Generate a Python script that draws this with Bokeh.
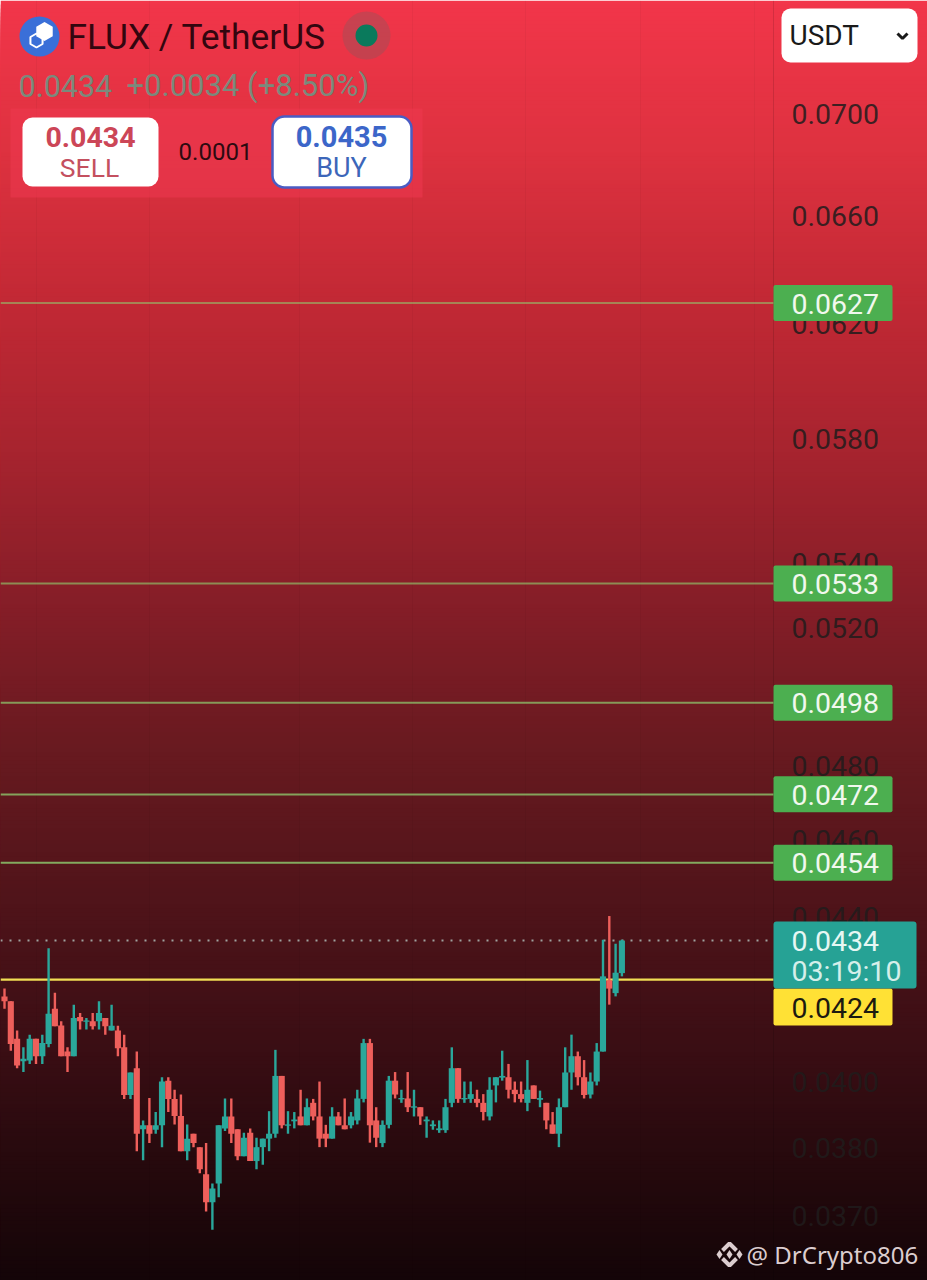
import numpy as np
from bokeh.core.properties import value
from bokeh.embed import file_html
from bokeh.models import FixedTicker, LinearScale, LogAxis, NumeralTickFormatter, Range1d
from bokeh.plotting import figure
from bokeh.resources import INLINE

# OHLC
opens = [0.04202,0.04190,0.04100,0.04047,0.04049,0.04100,0.04059,0.04088,0.04172,0.04132,0.04070,0.04059,0.04152,0.04141,0.04142,0.04142,0.04150,0.04120,0.04120,0.04080,
0.03969,0.04031,0.03891,0.03900,0.03890,0.03900,0.04002,0.03960,0.03921,0.03842,0.03881,0.03851,0.03791,0.03730,0.03771,0.03893,0.03920,0.03891,0.03831,0.03883,
0.03820,0.03851,0.03870,0.03881,0.04013,0.03899,0.03909,0.03920,0.03900,0.03951,0.03920,0.03881,0.03870,0.03920,0.03900,0.03900,0.03911,0.03960,0.04090,0.03911,
0.03860,0.03901,0.04002,0.03959,0.03961,0.03940,0.03941,0.03909,0.03898,0.03889,0.03889,0.03951,0.04031,0.03959,0.03960,0.03960,0.03951,0.03920,0.03991,0.04009,
0.04010,0.03981,0.03971,0.03951,0.03991,0.03958,0.03951,0.03902,0.03881,0.03941,0.04021,0.04059,0.04010,0.03970,0.04000,0.04070,0.04241,0.04210,0.04259]
highs = [0.04221,0.04190,0.04120,0.04080,0.04110,0.04100,0.04110,0.04321,0.04211,0.04142,0.04080,0.04182,0.04162,0.04150,0.04162,0.04190,0.04150,0.04182,0.04131,0.04110,
0.04021,0.04070,0.03911,0.03962,0.03930,0.04010,0.04010,0.03981,0.03970,0.03902,0.03881,0.03851,0.03860,0.03771,0.03900,0.03961,0.03961,0.03891,0.03883,0.03893,
0.03872,0.03870,0.03932,0.04074,0.04013,0.03932,0.03930,0.03981,0.03961,0.03960,0.04000,0.03901,0.03941,0.03930,0.03961,0.03930,0.03981,0.04100,0.04100,0.03941,
0.03911,0.04013,0.04022,0.03981,0.04022,0.03981,0.03941,0.03920,0.03911,0.03911,0.03960,0.04080,0.04031,0.04000,0.04000,0.03981,0.03971,0.04010,0.04010,0.04072,
0.04041,0.04000,0.04000,0.04050,0.03991,0.03979,0.03951,0.03930,0.03961,0.04080,0.04110,0.04070,0.04050,0.04021,0.04090,0.04342,0.04402,0.04332,0.04342]
lows = [0.04172,0.04072,0.04031,0.04022,0.04041,0.04041,0.04041,0.04080,0.04130,0.04059,0.04022,0.04059,0.04122,0.04122,0.04122,0.04122,0.04110,0.04120,0.04059,0.03960,
0.03960,0.03842,0.03822,0.03860,0.03881,0.03851,0.03930,0.03902,0.03842,0.03822,0.03851,0.03793,0.03710,0.03671,0.03741,0.03887,0.03860,0.03822,0.03831,0.03820,
0.03802,0.03812,0.03842,0.03872,0.03893,0.03881,0.03893,0.03900,0.03900,0.03911,0.03851,0.03851,0.03870,0.03900,0.03891,0.03893,0.03902,0.03952,0.03861,0.03851,
0.03851,0.03893,0.03961,0.03951,0.03930,0.03920,0.03901,0.03872,0.03890,0.03883,0.03883,0.03941,0.03951,0.03951,0.03951,0.03941,0.03911,0.03911,0.03952,0.04002,
0.03961,0.03952,0.03952,0.03932,0.03960,0.03941,0.03891,0.03881,0.03851,0.03941,0.03981,0.03991,0.03961,0.03961,0.03991,0.04070,0.04182,0.04202,0.04251]
closes = [0.04190,0.04088,0.04037,0.04053,0.04100,0.04059,0.04090,0.04160,0.04130,0.04059,0.04059,0.04150,0.04142,0.04144,0.04130,0.04162,0.04130,0.04131,0.04078,0.03969,
0.04021,0.03881,0.03900,0.03881,0.03900,0.04000,0.03960,0.03921,0.03842,0.03870,0.03860,0.03802,0.03730,0.03760,0.03900,0.03920,0.03881,0.03831,0.03872,0.03820,
0.03851,0.03870,0.03881,0.04013,0.03900,0.03902,0.03913,0.03900,0.03941,0.03920,0.03870,0.03870,0.03920,0.03900,0.03891,0.03920,0.03961,0.04090,0.03900,0.03872,
0.03901,0.04002,0.03970,0.03962,0.03941,0.03943,0.03920,0.03913,0.03902,0.03893,0.03941,0.04031,0.03960,0.03962,0.03971,0.03951,0.03930,0.03981,0.04010,0.04013,
0.03981,0.03971,0.03960,0.03981,0.03960,0.03962,0.03911,0.03881,0.03941,0.04021,0.04059,0.04010,0.03969,0.04000,0.04070,0.04251,0.04221,0.04260,0.04340]

# horizontal levels as drawn (the tag texts round them to four places)
levels = [0.06276, 0.05336, 0.0498, 0.04723, 0.0454]
level_labels = ["0.0627", "0.0533", "0.0498", "0.0472", "0.0454"]
last_price = 0.0434
yellow_price = 0.04243
tick_values = [0.07, 0.066, 0.062, 0.058, 0.054, 0.052, 0.048, 0.046, 0.044, 0.04, 0.0385, 0.037]
tick_overrides = {0.0385: "0.0380"}

# gradient stops: reference pixel row, r, g, b
bg_rows = [0, 150, 300, 450, 600, 750, 900, 1050, 1150, 1280]
bg_r = [242, 222, 194, 167, 134, 104, 80, 58, 40, 20]
bg_g = [54, 50, 41, 36, 30, 26, 20, 14, 10, 5]
bg_b = [74, 64, 53, 47, 40, 32, 26, 20, 14, 8]
grid_x = [36, 149, 299, 412, 525, 640, 754]

FONT = value("Roboto")
TEAL = "#2aa79b"
RED = "#ee5f5b"

p = figure(width=927, height=1280, output_backend="svg", toolbar_location=None,
           y_axis_type="log", x_axis_location=None, y_axis_location=None,
           x_range=Range1d((0 - 4) / 6.3, (927 - 4) / 6.3),
           y_range=Range1d(0.03565, 0.07477), min_border=0, outline_line_color=None)
p.grid.visible = False
p.extra_x_ranges["px"] = Range1d(0, 927)
p.extra_y_ranges["px"] = Range1d(1280, 0)
p.extra_x_scales["px"] = LinearScale()
p.extra_y_scales["px"] = LinearScale()
PX = dict(x_range_name="px", y_range_name="px")

# background
rows = np.arange(0, 1280, 4)
cols = ["#%02x%02x%02x" % (int(np.interp(r, bg_rows, bg_r)), int(np.interp(r, bg_rows, bg_g)), int(np.interp(r, bg_rows, bg_b))) for r in rows]
p.quad(left=0, right=927, top=rows, bottom=1280, fill_color=cols, line_color=None, **PX)
p.segment(x0=grid_x, x1=grid_x, y0=0, y1=1280, line_color="#000000", line_alpha=0.035, line_width=1, **PX)
p.segment(x0=[773], x1=[773], y0=[0], y1=[1280], line_color="#000000", line_alpha=0.12, line_width=1, **PX)

# levels
p.segment(x0=0, x1=773, y0=levels, y1=levels, line_color="#8fd070", line_alpha=[0.55, 0.62, 0.7, 0.76, 0.8], line_width=2, x_range_name="px")
p.segment(x0=[0], x1=[773], y0=[last_price], y1=[last_price], line_color="#b4c6c0", line_width=2, line_alpha=0.8, line_dash="2 7", x_range_name="px")
p.segment(x0=[0], x1=[773], y0=[yellow_price], y1=[yellow_price], line_color="#f0de55", line_width=2.4, x_range_name="px")

# candles
idx = list(range(len(opens)))
ccol = [TEAL if c >= o else RED for o, c in zip(opens, closes)]
p.segment(x0=idx, x1=idx, y0=lows, y1=highs, line_color=ccol, line_width=2.4)
p.vbar(x=idx, width=0.97, top=[max(a, b) for a, b in zip(opens, closes)], bottom=[min(a, b) for a, b in zip(opens, closes)], fill_color=ccol, line_color=None)

# price axis inside plot
ax = LogAxis(fixed_location=(785 - 4) / 6.3, ticker=FixedTicker(ticks=tick_values),
             formatter=NumeralTickFormatter(format="0.0000"), major_label_overrides=tick_overrides,
             axis_line_color=None, major_tick_line_color=None, minor_tick_line_color=None,
             major_label_standoff=0, major_label_text_font="Roboto", major_label_text_font_size="28.5px",
             major_label_text_color="#201c1c", major_label_text_alpha=0.85)
p.add_layout(ax, "right")


def box(l, r, t, b, color, radius=3, line=None, lw=1, alpha=1.0):
    p.quad(left=[l], right=[r], top=[t], bottom=[b], fill_color=color, fill_alpha=alpha, line_color=line, line_width=lw,
           border_radius=radius, level="overlay", **PX)


def label(x, y, s, size, color, align="left", style="normal", font=FONT, alpha=1.0):
    p.text(x=[x], y=[y], text=[s], text_font=font, text_font_size=size, text_color=color, text_align=align,
           text_baseline="middle", text_font_style=style, text_alpha=alpha, level="overlay", **PX)


# level tags
for lv, s in zip(levels, level_labels):
    yy = 940 - 1728 * np.log(lv / last_price)
    box(773, 892, yy - 18, yy + 18, "#4caf50", radius=2)
    label(791, yy + 0.5, s, "28.5px", "#f1f8ee")
box(773, 892, 988, 1025, "#ffe135", radius=2)
label(791, 1007, "0.0424", "28.5px", "#1c1a10")
box(773, 916, 921, 988, "#26a295", radius=3)
label(791, 940, "0.0434", "28.5px", "#e6f7f3")
label(791, 971, "03:19:10", "28.5px", "#d5efea")

# header
box(10, 422, 108, 197, "#ee3850", radius=0, alpha=0.55)
p.scatter(x=[39], y=[36], size=40, marker="circle", fill_color="#3a6fd8", line_color=None, level="overlay", **PX)
ang = np.deg2rad(np.arange(30, 390, 60))
p.patch(x=44 + 9.5 * np.cos(ang), y=31 + 9.5 * np.sin(ang), fill_color="#ffffff", line_color=None, level="overlay", **PX)
p.patch(x=36 + 7 * np.cos(ang), y=40 + 7 * np.sin(ang), fill_color=None, line_color="#ffffff", line_width=2, level="overlay", **PX)
label(67, 36, "FLUX / TetherUS", "35.3px", "#33060f")
p.scatter(x=[366], y=[35], size=48, marker="circle", fill_color="#666666", fill_alpha=0.28, line_color=None, level="overlay", **PX)
p.scatter(x=[366], y=[35], size=22, marker="circle", fill_color="#0a7a5c", line_color=None, level="overlay", **PX)
label(18, 85, "0.0434", "30.5px", "#7a8a7c")
label(126, 85, "+0.0034 (+8.50%)", "31px", "#7a8a7c")
box(22, 158, 117, 186, "#ffffff", radius=10)
label(90, 136, "0.0434", "28.5px", "#cc4657", "center", "bold")
label(89, 167, "SELL", "26.5px", "#c4505f", "center")
label(215, 151, "0.0001", "24px", "#2c0a10", "center")
box(272, 411, 116, 187, "#ffffff", radius=12, line="#4a5cc4", lw=2.5)
label(341, 136, "0.0435", "29px", "#3c66c9", "center", "bold")
label(341, 167, "BUY", "27px", "#3c66b9", "center")

# currency selector
box(781, 917, 8, 62, "#ffffff", radius=9)
label(789, 35, "USDT", "28px", "#1a1a1a")
p.line(x=[897, 902, 907], y=[33, 38, 33], line_color="#1a1a1a", line_width=3, level="overlay", **PX)

# watermark
WM = "#dccdcf"
p.scatter(x=[729, 719, 739], y=[1254, 1254, 1254], size=9, marker="diamond", fill_color=WM, line_color=None, level="overlay", **PX)
p.line(x=[722, 729, 736], y=[1250, 1243, 1250], line_color=WM, line_width=4, level="overlay", **PX)
p.line(x=[722, 729, 736], y=[1258, 1265, 1258], line_color=WM, line_width=4, level="overlay", **PX)
label(746, 1254, "@ DrCrypto806", "24px", WM, font=value("Noto Sans"))

open("out.html", "w").write(file_html(p, INLINE))
